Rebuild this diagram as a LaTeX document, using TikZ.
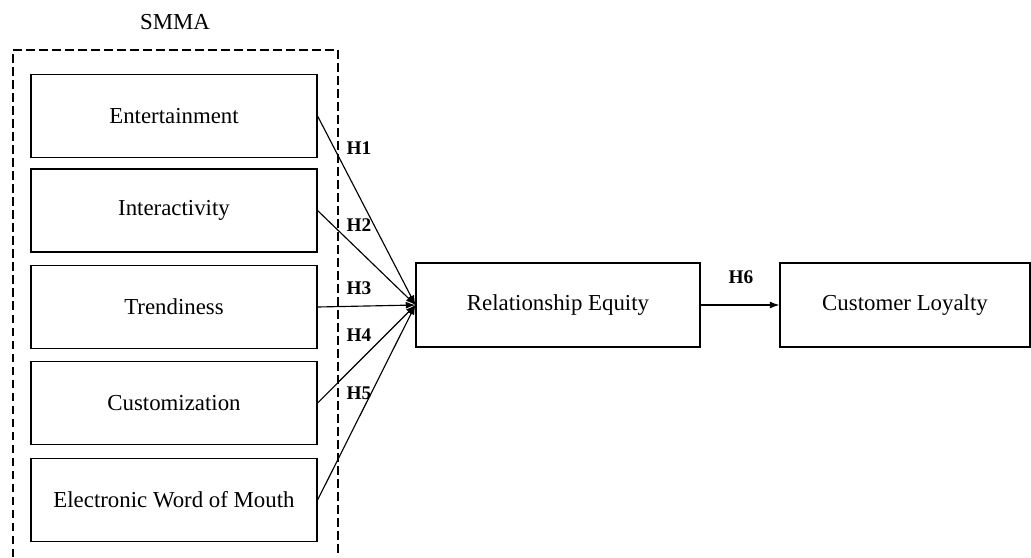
\documentclass[tikz,border=0pt]{standalone}
\usepackage{fontspec}
\setmainfont{Liberation Serif}
\usepackage{tikz}
\usetikzlibrary{shapes,arrows,arrows.meta}
\usetikzlibrary{positioning}
\usetikzlibrary{calc}
\tikzstyle{every node}=[font=\fontsize{13}{15}\selectfont]
\tikzstyle{every path}=[line width=0.65pt,line join=miter]
\tikzstyle{block}=[draw,minimum width=5.72cm,minimum height=1.66cm,inner sep=0pt]
\tikzstyle{hyp}=[font=\fontsize{11}{13}\selectfont\bfseries,inner sep=0pt]
\tikzstyle{arr}=[-{Latex[length=5.5pt,width=4pt]}]

\begin{document}
\begin{tikzpicture}
\useasboundingbox (0,0) rectangle (20.62,-11.14);

 \node (smma) at (3.5,-0.44) {SMMA};
\coordinate (gl) at (0.26,-11.14);
\coordinate (gr) at (6.76,-11.14);
\draw [dash pattern=on 4.8pt off 2.6pt](gl) |- (6.76,-1.0) -- (gr);

 \node[block] (ent) at (3.48,-2.32) {Entertainment};
 \node[block] (inter) at (3.48,-4.21) {Interactivity};
 \node[block] (trend) at (3.48,-6.14) {Trendiness};
 \node[block] (cust) at (3.48,-8.06) {Customization};
 \node[block] (ewom) at (3.48,-10.0) {Electronic Word of Mouth};

 \node[block,minimum width=5.68cm,minimum height=1.68cm] (re) at (11.16,-6.10) {Relationship Equity};
 \node[block,minimum width=5.0cm,minimum height=1.68cm] (cl) at (18.1,-6.10) {Customer Loyalty};

\draw [arr](ent.east) -- (re.west);
\draw [arr](inter.east) -- (re.west);
\draw [arr](trend.east) -- (re.west);
\draw [arr](cust.east) -- (re.west);
\draw [arr](ewom.east) -- (re.west);
\draw [arr](re.east) -- (cl.west);

\node[hyp] (h1) at (7.18,-2.96) {H1};
\node[hyp] (h2) at (7.18,-4.5) {H2};
\node[hyp] (h3) at (7.18,-5.76) {H3};
\node[hyp] (h4) at (7.18,-6.7) {H4};
\node[hyp] (h5) at (7.18,-7.86) {H5};
\node[hyp] (h6) at (14.82,-5.54) {H6};

\end{tikzpicture}
\end{document}
